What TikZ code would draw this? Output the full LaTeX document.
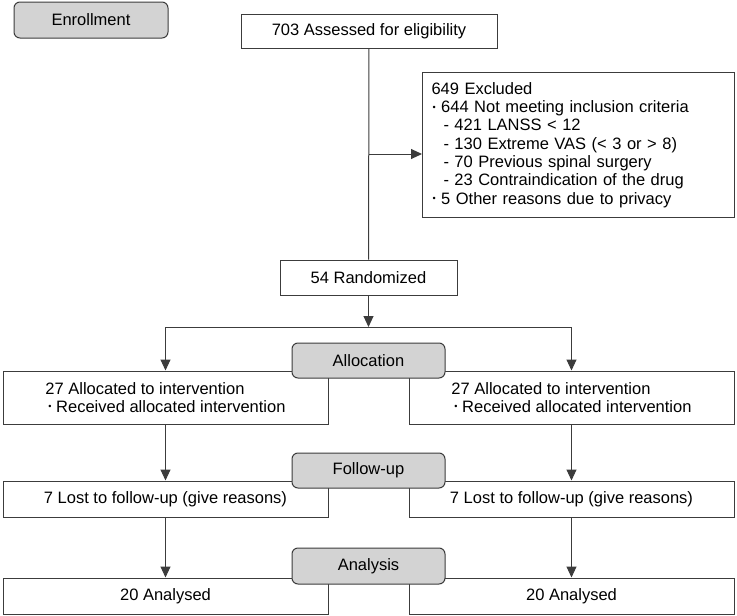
\documentclass[tikz,border=0pt]{standalone}
\usepackage{fontspec}
\setmainfont{Liberation Sans}
\usetikzlibrary{arrows.meta,calc}
\definecolor{stagegray}{RGB}{211,211,211}
\definecolor{linegray}{RGB}{60,60,60}
\newcommand{\listdot}{\raisebox{0.3ex}{\scalebox{0.55}{•}}}

\begin{document}
\begin{tikzpicture}[x=1pt,y=-1pt,
  every node/.style={font=\fontsize{16.5}{18.3}\selectfont, inner sep=0pt},
  flowbox/.style={rectangle, draw=linegray, line width=1pt, fill=white, align=left},
  stage/.style={rectangle, rounded corners=6pt, draw=linegray, line width=1pt,
    fill=stagegray, minimum width=153pt, minimum height=35pt},
  arr/.style={draw=linegray, line width=1pt, -{Triangle[length=11pt,width=10pt]}}]
\path [use as bounding box] (0,0) rectangle (737,616);
% boxes
\node[flowbox, minimum width=256pt, minimum height=34pt] (assess) at (369,31) {703 Assessed for eligibility};
\node[flowbox, anchor=north west, text width=294pt, inner xsep=9pt, minimum height=145pt] (excl) at (422,72)
  {649 Excluded\\
   \hspace*{1pt}\listdot\ 644 Not meeting inclusion criteria\\
   \hspace*{12pt}- 421 LANSS < 12\\
   \hspace*{12pt}- 130 Extreme VAS (< 3 or > 8)\\
   \hspace*{12pt}- 70 Previous spinal surgery\\
   \hspace*{12pt}- 23 Contraindication of the drug\\
   \hspace*{1pt}\listdot\ 5 Other reasons due to privacy};
\node[flowbox, minimum width=177pt, minimum height=35pt] (rand) at (368.5,277.5) {54 Randomized};
\node[flowbox, minimum width=325pt, minimum height=53pt] (allocL) at (165.5,397.5)
  {27 Allocated to intervention\\ \hspace*{3pt}\listdot\ Received allocated intervention};
\node[flowbox, minimum width=325pt, minimum height=53pt] (allocR) at (571.5,397.5)
  {27 Allocated to intervention\\ \hspace*{3pt}\listdot\ Received allocated intervention};
\node[flowbox, minimum width=325pt, minimum height=36pt] (lostL) at (165.5,499) {7 Lost to follow-up (give reasons)};
\node[flowbox, minimum width=325pt, minimum height=36pt] (lostR) at (571.5,499) {7 Lost to follow-up (give reasons)};
\node[flowbox, minimum width=325pt, minimum height=36pt] (anaL) at (165.5,596) {20 Analysed};
\node[flowbox, minimum width=325pt, minimum height=36pt] (anaR) at (571.5,596) {20 Analysed};
% stage labels
\node[stage, minimum width=154pt, minimum height=36pt] (enroll) at (91,20) {Enrollment};
\node[stage] (allocation) at (368.5,360.5) {Allocation};
\node[stage] (followup) at (368.5,470.5) {Follow-up};
\node[stage, minimum height=36pt] (analysis) at (368.5,566) {Analysis};
% connectors
\coordinate (split) at (369,154);
\coordinate (mid) at (368.5,327);
\draw[draw=linegray, line width=1pt] (assess) -- (rand);
\draw[arr] (split) -- (split -| excl.west);
\draw[arr] (rand) -- (mid);
\draw[arr] (mid) -| (allocL);
\draw[arr] (mid) -| (allocR);
\draw[arr] (allocL) -- (lostL);
\draw[arr] (allocR) -- (lostR);
\draw[arr] (lostL) -- (anaL);
\draw[arr] (lostR) -- (anaR);
\end{tikzpicture}
\end{document}
